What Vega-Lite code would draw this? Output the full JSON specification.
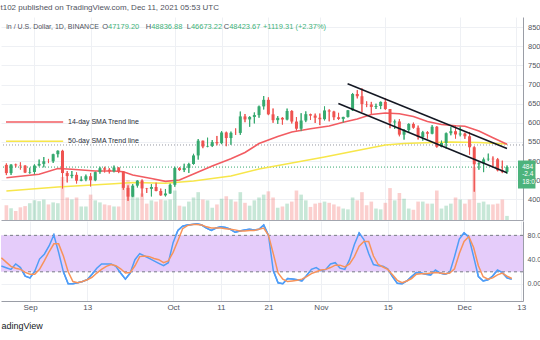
{
"$schema": "https://vega.github.io/schema/vega-lite/v6.json",
"background": "white",
"padding": {"left": 0, "top": 3, "right": 0, "bottom": 0},
"title": {"text": "t102 published on TradingView.com, Dec 11, 2021 05:53 UTC", "anchor": "start", "fontSize": 8, "font": "Liberation Sans", "fontWeight": "normal", "color": "#50535e", "offset": 5.5},
"config": {"view": {"stroke": null}, "font": "Liberation Sans", "axis": {"labelFont": "Liberation Sans", "labelColor": "#50535e", "labelFontSize": 8, "labelOverlap": false, "labelSeparation": 0}},
"spacing": 1,
"datasets": {
"ohlc": [
{"d":"2021-08-26","o":49000,"h":49380,"l":46330,"c":46850,"v":36},
{"d":"2021-08-27","o":46850,"h":49180,"l":46370,"c":49070,"v":29},
{"d":"2021-08-28","o":49070,"h":49300,"l":48370,"c":48900,"v":22},
{"d":"2021-08-29","o":48900,"h":49650,"l":47770,"c":48810,"v":31},
{"d":"2021-08-30","o":48810,"h":48910,"l":46860,"c":46990,"v":34},
{"d":"2021-08-31","o":46990,"h":48250,"l":46700,"c":47130,"v":41},
{"d":"2021-09-01","o":47130,"h":49130,"l":46520,"c":48830,"v":48},
{"d":"2021-09-02","o":48830,"h":50390,"l":48610,"c":49250,"v":46},
{"d":"2021-09-03","o":49250,"h":51050,"l":48360,"c":49940,"v":50},
{"d":"2021-09-04","o":49940,"h":50560,"l":49460,"c":49920,"v":38},
{"d":"2021-09-05","o":49920,"h":51900,"l":49500,"c":51790,"v":43},
{"d":"2021-09-06","o":51790,"h":52780,"l":50960,"c":52700,"v":41},
{"d":"2021-09-07","o":52700,"h":52920,"l":42840,"c":46860,"v":105},
{"d":"2021-09-08","o":46860,"h":47380,"l":44410,"c":46070,"v":55},
{"d":"2021-09-09","o":46070,"h":47400,"l":45510,"c":46400,"v":50},
{"d":"2021-09-10","o":46400,"h":47040,"l":44140,"c":44850,"v":55},
{"d":"2021-09-11","o":44850,"h":45990,"l":44730,"c":45170,"v":33},
{"d":"2021-09-12","o":45170,"h":46460,"l":44740,"c":46030,"v":33},
{"d":"2021-09-13","o":46030,"h":46880,"l":43370,"c":44960,"v":62},
{"d":"2021-09-14","o":44960,"h":47250,"l":44750,"c":47110,"v":48},
{"d":"2021-09-15","o":47110,"h":48490,"l":46680,"c":48120,"v":43},
{"d":"2021-09-16","o":48120,"h":48500,"l":47020,"c":47740,"v":38},
{"d":"2021-09-17","o":47740,"h":48160,"l":46750,"c":47300,"v":36},
{"d":"2021-09-18","o":47300,"h":48820,"l":47050,"c":48310,"v":33},
{"d":"2021-09-19","o":48310,"h":48370,"l":46850,"c":47260,"v":33},
{"d":"2021-09-20","o":47260,"h":47340,"l":42500,"c":42990,"v":90},
{"d":"2021-09-21","o":42990,"h":43640,"l":39600,"c":40700,"v":98},
{"d":"2021-09-22","o":40700,"h":44000,"l":40570,"c":43570,"v":75},
{"d":"2021-09-23","o":43570,"h":44980,"l":43090,"c":44900,"v":55},
{"d":"2021-09-24","o":44900,"h":45200,"l":40680,"c":42840,"v":65},
{"d":"2021-09-25","o":42840,"h":42970,"l":41650,"c":42720,"v":40},
{"d":"2021-09-26","o":42720,"h":43950,"l":40750,"c":43210,"v":48},
{"d":"2021-09-27","o":43210,"h":44350,"l":42100,"c":42170,"v":45},
{"d":"2021-09-28","o":42170,"h":42800,"l":40930,"c":41030,"v":50},
{"d":"2021-09-29","o":41030,"h":42700,"l":40750,"c":41520,"v":48},
{"d":"2021-09-30","o":41520,"h":44130,"l":41420,"c":43790,"v":50},
{"d":"2021-10-01","o":43790,"h":48500,"l":43280,"c":48170,"v":72},
{"d":"2021-10-02","o":48170,"h":48360,"l":47450,"c":47640,"v":35},
{"d":"2021-10-03","o":47640,"h":49300,"l":47120,"c":48200,"v":33},
{"d":"2021-10-04","o":48200,"h":49530,"l":46890,"c":49220,"v":45},
{"d":"2021-10-05","o":49220,"h":51890,"l":49060,"c":51470,"v":55},
{"d":"2021-10-06","o":51470,"h":55750,"l":50380,"c":55320,"v":68},
{"d":"2021-10-07","o":55320,"h":55340,"l":53360,"c":53790,"v":50},
{"d":"2021-10-08","o":53790,"h":56100,"l":53620,"c":53950,"v":48},
{"d":"2021-10-09","o":53950,"h":55490,"l":53660,"c":54950,"v":30},
{"d":"2021-10-10","o":54950,"h":56560,"l":54110,"c":54660,"v":38},
{"d":"2021-10-11","o":54660,"h":57840,"l":54420,"c":57470,"v":52},
{"d":"2021-10-12","o":57470,"h":57680,"l":53880,"c":56010,"v":58},
{"d":"2021-10-13","o":56010,"h":57700,"l":54250,"c":57370,"v":50},
{"d":"2021-10-14","o":57370,"h":58530,"l":56820,"c":57350,"v":45},
{"d":"2021-10-15","o":57350,"h":62930,"l":56850,"c":61670,"v":68},
{"d":"2021-10-16","o":61670,"h":62300,"l":60150,"c":60880,"v":42},
{"d":"2021-10-17","o":60880,"h":61720,"l":58960,"c":61530,"v":35},
{"d":"2021-10-18","o":61530,"h":62700,"l":59840,"c":62010,"v":48},
{"d":"2021-10-19","o":62010,"h":64490,"l":61320,"c":64280,"v":55},
{"d":"2021-10-20","o":64280,"h":67000,"l":63480,"c":66000,"v":62},
{"d":"2021-10-21","o":66000,"h":66640,"l":62000,"c":62210,"v":70},
{"d":"2021-10-22","o":62210,"h":63730,"l":60000,"c":60690,"v":55},
{"d":"2021-10-23","o":60690,"h":61750,"l":59700,"c":61290,"v":30},
{"d":"2021-10-24","o":61290,"h":61490,"l":59530,"c":60850,"v":33},
{"d":"2021-10-25","o":60850,"h":63710,"l":60650,"c":63080,"v":40},
{"d":"2021-10-26","o":63080,"h":63290,"l":59820,"c":60330,"v":45},
{"d":"2021-10-27","o":60330,"h":61500,"l":58000,"c":58450,"v":72},
{"d":"2021-10-28","o":58450,"h":62500,"l":57820,"c":60590,"v":62},
{"d":"2021-10-29","o":60590,"h":62980,"l":60170,"c":62250,"v":48},
{"d":"2021-10-30","o":62250,"h":62360,"l":60720,"c":61880,"v":32},
{"d":"2021-10-31","o":61880,"h":62400,"l":59950,"c":61320,"v":40},
{"d":"2021-11-01","o":61320,"h":62420,"l":59400,"c":60930,"v":42},
{"d":"2021-11-02","o":60930,"h":64270,"l":60620,"c":63230,"v":45},
{"d":"2021-11-03","o":63230,"h":63520,"l":60380,"c":62940,"v":42},
{"d":"2021-11-04","o":62940,"h":63120,"l":60700,"c":61440,"v":38},
{"d":"2021-11-05","o":61440,"h":62600,"l":60720,"c":61010,"v":33},
{"d":"2021-11-06","o":61010,"h":61560,"l":60050,"c":61530,"v":28},
{"d":"2021-11-07","o":61530,"h":63290,"l":61380,"c":63270,"v":26},
{"d":"2021-11-08","o":63270,"h":67790,"l":63110,"c":67530,"v":55},
{"d":"2021-11-09","o":67530,"h":68530,"l":66380,"c":66940,"v":48},
{"d":"2021-11-10","o":66940,"h":69000,"l":62820,"c":64880,"v":68},
{"d":"2021-11-11","o":64880,"h":65600,"l":64100,"c":64780,"v":36},
{"d":"2021-11-12","o":64780,"h":65460,"l":62330,"c":64140,"v":45},
{"d":"2021-11-13","o":64140,"h":64990,"l":63600,"c":64390,"v":28},
{"d":"2021-11-14","o":64390,"h":65550,"l":63580,"c":65470,"v":26},
{"d":"2021-11-15","o":65470,"h":66400,"l":63400,"c":63590,"v":42},
{"d":"2021-11-16","o":63590,"h":63590,"l":58580,"c":60090,"v":78},
{"d":"2021-11-17","o":60090,"h":60820,"l":58370,"c":60350,"v":48},
{"d":"2021-11-18","o":60350,"h":60960,"l":56470,"c":56900,"v":66},
{"d":"2021-11-19","o":56900,"h":58370,"l":55600,"c":58100,"v":52},
{"d":"2021-11-20","o":58100,"h":59850,"l":57350,"c":59700,"v":28},
{"d":"2021-11-21","o":59700,"h":60050,"l":58470,"c":58700,"v":25},
{"d":"2021-11-22","o":58700,"h":59270,"l":55630,"c":56280,"v":45},
{"d":"2021-11-23","o":56280,"h":57870,"l":55320,"c":57540,"v":45},
{"d":"2021-11-24","o":57540,"h":57800,"l":55850,"c":57140,"v":40},
{"d":"2021-11-25","o":57140,"h":59400,"l":57000,"c":58960,"v":40},
{"d":"2021-11-26","o":58960,"h":59150,"l":53500,"c":53730,"v":72},
{"d":"2021-11-27","o":53730,"h":55330,"l":53610,"c":54720,"v":28},
{"d":"2021-11-28","o":54720,"h":57450,"l":53250,"c":57270,"v":35},
{"d":"2021-11-29","o":57270,"h":58870,"l":56730,"c":57800,"v":40},
{"d":"2021-11-30","o":57800,"h":59250,"l":55880,"c":56950,"v":55},
{"d":"2021-12-01","o":56950,"h":59050,"l":56460,"c":57180,"v":50},
{"d":"2021-12-02","o":57180,"h":57400,"l":55800,"c":56480,"v":40},
{"d":"2021-12-03","o":56480,"h":57600,"l":51680,"c":53600,"v":50},
{"d":"2021-12-04","o":53600,"h":53860,"l":42000,"c":49150,"v":130},
{"d":"2021-12-05","o":49150,"h":49700,"l":47730,"c":49400,"v":42},
{"d":"2021-12-06","o":49400,"h":50880,"l":47100,"c":50440,"v":45},
{"d":"2021-12-07","o":50440,"h":51940,"l":50040,"c":50590,"v":38},
{"d":"2021-12-08","o":50590,"h":51200,"l":48600,"c":50470,"v":38},
{"d":"2021-12-09","o":50470,"h":50800,"l":47320,"c":47550,"v":40},
{"d":"2021-12-10","o":47550,"h":50100,"l":46850,"c":47179,"v":50},
{"d":"2021-12-11","o":47179,"h":48837,"l":46673,"c":48424,"v":10}
],
"sma14": [
{"d":"2021-08-26","v":45650},{"d":"2021-09-02","v":46540},{"d":"2021-09-06","v":48050},{"d":"2021-09-09","v":47840},
{"d":"2021-09-14","v":47400},{"d":"2021-09-18","v":47400},{"d":"2021-09-20","v":47210},{"d":"2021-09-22","v":46350},
{"d":"2021-09-26","v":45440},{"d":"2021-09-29","v":44700},{"d":"2021-10-02","v":45050},{"d":"2021-10-05","v":46610},
{"d":"2021-10-09","v":48700},{"d":"2021-10-13","v":50610},{"d":"2021-10-16","v":52230},{"d":"2021-10-19","v":54590},
{"d":"2021-10-23","v":56420},{"d":"2021-10-26","v":57590},{"d":"2021-10-30","v":58450},{"d":"2021-11-03","v":59160},
{"d":"2021-11-06","v":60150},{"d":"2021-11-09","v":60990},{"d":"2021-11-12","v":62170},{"d":"2021-11-15","v":62560},
{"d":"2021-11-18","v":62350},{"d":"2021-11-21","v":61640},{"d":"2021-11-24","v":60340},{"d":"2021-11-27","v":59550},
{"d":"2021-11-30","v":59210},{"d":"2021-12-02","v":59110},{"d":"2021-12-05","v":57850},{"d":"2021-12-08","v":56100},
{"d":"2021-12-11","v":54380}
],
"sma50": [
{"d":"2021-08-26","v":42170},{"d":"2021-09-06","v":43220},{"d":"2021-09-18","v":44080},{"d":"2021-09-22","v":44390},
{"d":"2021-09-29","v":44180},{"d":"2021-10-05","v":44780},{"d":"2021-10-13","v":46090},{"d":"2021-10-19","v":47920},
{"d":"2021-10-26","v":49490},{"d":"2021-11-02","v":51060},{"d":"2021-11-09","v":52760},{"d":"2021-11-15","v":54200},
{"d":"2021-11-19","v":54600},{"d":"2021-11-22","v":54720},{"d":"2021-11-29","v":54980},{"d":"2021-12-05","v":54850},
{"d":"2021-12-11","v":54460}
],
"stoch": [
{"d":"2021-08-26","k":29.6,"dd":43},{"d":"2021-08-27","k":26.8,"dd":36},{"d":"2021-08-28","k":24,"dd":29},{"d":"2021-08-29","k":33,"dd":26},{"d":"2021-08-30","k":27,"dd":24},{"d":"2021-08-31","k":13,"dd":19},
{"d":"2021-09-01","k":10,"dd":16},{"d":"2021-09-02","k":21,"dd":16},{"d":"2021-09-03","k":41,"dd":24},{"d":"2021-09-04","k":49,"dd":38},{"d":"2021-09-05","k":62.5,"dd":53},{"d":"2021-09-06","k":80.6,"dd":66},
{"d":"2021-09-07","k":52,"dd":66},{"d":"2021-09-08","k":20,"dd":46},{"d":"2021-09-09","k":0.5,"dd":20},{"d":"2021-09-10","k":0.5,"dd":4},{"d":"2021-09-11","k":2,"dd":2},{"d":"2021-09-12","k":4,"dd":4},
{"d":"2021-09-13","k":7,"dd":7},{"d":"2021-09-14","k":16,"dd":11},{"d":"2021-09-15","k":26,"dd":18},{"d":"2021-09-16","k":33,"dd":24},{"d":"2021-09-17","k":33,"dd":29},{"d":"2021-09-18","k":33,"dd":32},
{"d":"2021-09-19","k":29,"dd":30},{"d":"2021-09-20","k":18,"dd":25},{"d":"2021-09-21","k":8,"dd":18},{"d":"2021-09-22","k":18,"dd":19},{"d":"2021-09-23","k":40,"dd":30},{"d":"2021-09-24","k":50,"dd":45},
{"d":"2021-09-25","k":46,"dd":46},{"d":"2021-09-26","k":42,"dd":45},{"d":"2021-09-27","k":38,"dd":42},{"d":"2021-09-28","k":34,"dd":40},{"d":"2021-09-29","k":30,"dd":35},{"d":"2021-09-30","k":35,"dd":38},
{"d":"2021-10-01","k":68,"dd":52},{"d":"2021-10-02","k":88,"dd":71},{"d":"2021-10-03","k":95,"dd":91},{"d":"2021-10-04","k":97,"dd":96},{"d":"2021-10-05","k":98,"dd":98},{"d":"2021-10-06","k":99,"dd":98},
{"d":"2021-10-07","k":97,"dd":97},{"d":"2021-10-08","k":92,"dd":94},{"d":"2021-10-09","k":88,"dd":92},{"d":"2021-10-10","k":92,"dd":92},{"d":"2021-10-11","k":94,"dd":92},{"d":"2021-10-12","k":93,"dd":91},
{"d":"2021-10-13","k":90,"dd":90},{"d":"2021-10-14","k":85,"dd":89},{"d":"2021-10-15","k":87,"dd":87},{"d":"2021-10-16","k":89,"dd":87},{"d":"2021-10-17","k":90,"dd":88},{"d":"2021-10-18","k":89,"dd":88},
{"d":"2021-10-19","k":90,"dd":90},{"d":"2021-10-20","k":97,"dd":92},{"d":"2021-10-21","k":80,"dd":80},{"d":"2021-10-22","k":22,"dd":50},{"d":"2021-10-23","k":2,"dd":18},{"d":"2021-10-24","k":0.5,"dd":8},
{"d":"2021-10-25","k":9,"dd":4},{"d":"2021-10-26","k":8,"dd":5},{"d":"2021-10-27","k":7,"dd":6},{"d":"2021-10-28","k":5,"dd":8},{"d":"2021-10-29","k":14,"dd":12},{"d":"2021-10-30","k":24,"dd":17},
{"d":"2021-10-31","k":27,"dd":20},{"d":"2021-11-01","k":22,"dd":23},{"d":"2021-11-02","k":24,"dd":24},{"d":"2021-11-03","k":33,"dd":27},{"d":"2021-11-04","k":35,"dd":31},{"d":"2021-11-05","k":26,"dd":31},
{"d":"2021-11-06","k":24,"dd":28},{"d":"2021-11-07","k":40,"dd":33},{"d":"2021-11-08","k":65,"dd":45},{"d":"2021-11-09","k":84,"dd":62},{"d":"2021-11-10","k":73,"dd":70},{"d":"2021-11-11","k":50,"dd":70},
{"d":"2021-11-12","k":32,"dd":46},{"d":"2021-11-13","k":30,"dd":32},{"d":"2021-11-14","k":29,"dd":28},{"d":"2021-11-15","k":25,"dd":24},{"d":"2021-11-16","k":12,"dd":15},{"d":"2021-11-17","k":1,"dd":6},
{"d":"2021-11-18","k":0.5,"dd":2},{"d":"2021-11-19","k":5,"dd":5},{"d":"2021-11-20","k":12,"dd":9},{"d":"2021-11-21","k":19,"dd":16},{"d":"2021-11-22","k":18,"dd":17},{"d":"2021-11-23","k":16,"dd":17},
{"d":"2021-11-24","k":15,"dd":18},{"d":"2021-11-25","k":23,"dd":19},{"d":"2021-11-26","k":18,"dd":18},{"d":"2021-11-27","k":16,"dd":17},{"d":"2021-11-28","k":19,"dd":18},{"d":"2021-11-29","k":45,"dd":25},
{"d":"2021-11-30","k":74,"dd":50},{"d":"2021-12-01","k":84,"dd":70},{"d":"2021-12-02","k":77,"dd":78},{"d":"2021-12-03","k":45,"dd":60},{"d":"2021-12-04","k":12,"dd":30},{"d":"2021-12-05","k":5,"dd":12},
{"d":"2021-12-06","k":7,"dd":8},{"d":"2021-12-07","k":13,"dd":10},{"d":"2021-12-08","k":23,"dd":15},{"d":"2021-12-09","k":19,"dd":18},{"d":"2021-12-10","k":10,"dd":13},{"d":"2021-12-11","k":8,"dd":9}
],
"channel": [
{"a":"2021-11-06T22:30:00Z","b":"2021-12-11T00:00:00Z","pa":70190,"pb":53280},
{"a":"2021-11-04T23:00:00Z","b":"2021-12-11T00:00:00Z","pa":65040,"pb":46950}
],
"notes": [
{"a":"2021-08-25T22:05:00Z","b":"2021-09-07T03:20:00Z","t":"2021-09-08T04:30:00Z","p":60210,"label":"14-day SMA Trend line","kind":"14"},
{"a":"2021-08-25T22:05:00Z","b":"2021-09-07T03:20:00Z","t":"2021-09-08T04:30:00Z","p":55170,"label":"50-day SMA Trend line","kind":"50"}
],
"header": [
{"d":"2021-08-25T23:40:00Z","name":"in / U.S. Dollar, 1D, BINANCE","lbl":"","val":""},
{"d":"2021-09-16T17:20:00Z","name":"","lbl":"O","val":"47179.20"},
{"d":"2021-09-25T22:45:00Z","name":"","lbl":"H","val":"48836.88"},
{"d":"2021-10-04T10:30:00Z","name":"","lbl":"L","val":"46673.22"},
{"d":"2021-10-12T14:45:00Z","name":"","lbl":"C","val":"48423.67"},
{"d":"2021-10-19T20:20:00Z","name":"","lbl":"","val":"+1119.31 (+2.37%)"}
],
"tag": [
{"a":"2021-12-13T08:30:00Z","b":"2021-12-17T02:00:00Z","p1":50140,"p2":42820}
],
"tagtext": [
{"d":"2021-12-14T06:00:00Z","p":48420,"t":"484"},
{"d":"2021-12-14T06:00:00Z","p":46535,"t":"-2.4"},
{"d":"2021-12-14T06:00:00Z","p":44600,"t":"18:0"}
]
},
"vconcat": [
{
"width": 522, "height": 203,
"resolve": {"scale": {"y": "independent"}},
"layer": [
{
"data": {"name": "ohlc"},
"mark": {"type": "bar", "size": 3.6, "opacity": 0.28, "clip": true},
"encoding": {
"x": {"field": "d", "type": "temporal", "scale": {"type": "utc", "domain": [1629929100000, 1639384140000]},
 "axis": {"values": [1630454400000, 1631491200000, 1633046400000, 1633910400000, 1634774400000, 1635724800000, 1636934400000, 1638316800000, 1639353600000], "tickCount": 30,
  "labels": false, "ticks": false, "grid": true, "gridColor": "#eef0f4", "domain": true, "domainColor": "#a3a6af", "domainWidth": 1.2, "title": null, "zindex": 0}},
"y": {"field": "v", "type": "quantitative", "scale": {"domain": [0, 496], "nice": false}, "axis": null},
"color": {"condition": {"test": "datum.c >= datum.o", "value": "#36a96f"}, "value": "#ef5350"}
}
},
{
"layer": [
{
"data": {"name": "ohlc"},
"mark": {"type": "rule", "strokeWidth": 1, "clip": true},
"encoding": {
"x": {"field": "d", "type": "temporal", "scale": {"type": "utc", "domain": [1629929100000, 1639384140000]}},
"y": {"field": "l", "type": "quantitative", "scale": {"domain": [34590, 87650], "nice": false, "zero": false},
 "axis": {"orient": "right", "values": [40000, 45000, 50000, 55000, 60000, 65000, 70000, 75000, 80000, 85000], "tickCount": 30, "labelExpr": "substring(format(datum.value, '.2f'), 0, 3)", "labelOverlap": false, "labelSeparation": 0, "grid": true, "gridColor": "#eef0f4", "ticks": false, "labelPadding": 4.5, "labelFontSize": 7.5, "domain": true, "domainColor": "#9a9da6", "title": null, "zindex": 0}},
"y2": {"field": "h"},
"color": {"condition": {"test": "datum.c >= datum.o", "value": "#36a96f"}, "value": "#ef5350"}
}
},
{
"data": {"values": [{"p": 54200}]},
"mark": {"type": "rule", "color": "#9598a1", "strokeDash": [1, 2], "strokeWidth": 1},
"encoding": {"y": {"field": "p", "type": "quantitative", "scale": {"domain": [34590, 87650], "nice": false, "zero": false}}}
},
{
"data": {"values": [{"p": 48423.67}]},
"mark": {"type": "rule", "color": "#36a96f", "strokeDash": [1, 2], "strokeWidth": 1},
"encoding": {"y": {"field": "p", "type": "quantitative", "scale": {"domain": [34590, 87650], "nice": false, "zero": false}}}
},
{
"data": {"name": "sma50"},
"mark": {"type": "line", "color": "#f7e64a", "strokeWidth": 1.6, "clip": true},
"encoding": {
"x": {"field": "d", "type": "temporal", "scale": {"type": "utc", "domain": [1629929100000, 1639384140000]}},
"y": {"field": "v", "type": "quantitative", "scale": {"domain": [34590, 87650], "nice": false, "zero": false}}
}
},
{
"data": {"name": "sma14"},
"mark": {"type": "line", "color": "#f25c62", "strokeWidth": 1.6, "clip": true},
"encoding": {
"x": {"field": "d", "type": "temporal", "scale": {"type": "utc", "domain": [1629929100000, 1639384140000]}},
"y": {"field": "v", "type": "quantitative", "scale": {"domain": [34590, 87650], "nice": false, "zero": false}}
}
},
{
"data": {"name": "ohlc"},
"mark": {"type": "rule", "strokeWidth": 1, "clip": true},
"encoding": {
"x": {"field": "d", "type": "temporal", "scale": {"type": "utc", "domain": [1629929100000, 1639384140000]}},
"y": {"field": "l", "type": "quantitative", "scale": {"domain": [34590, 87650], "nice": false, "zero": false}},
"y2": {"field": "h"},
"color": {"condition": {"test": "datum.c >= datum.o", "value": "#36a96f"}, "value": "#ef5350"}
}
},
{
"data": {"name": "ohlc"},
"mark": {"type": "bar", "size": 3, "clip": true},
"encoding": {
"x": {"field": "d", "type": "temporal", "scale": {"type": "utc", "domain": [1629929100000, 1639384140000]}},
"y": {"field": "o", "type": "quantitative", "scale": {"domain": [34590, 87650], "nice": false, "zero": false}},
"y2": {"field": "c"},
"color": {"condition": {"test": "datum.c >= datum.o", "value": "#36a96f"}, "value": "#ef5350"}
}
},
{
"data": {"name": "channel"},
"mark": {"type": "rule", "color": "#131722", "strokeWidth": 1.5},
"encoding": {
"x": {"field": "a", "type": "temporal", "scale": {"type": "utc", "domain": [1629929100000, 1639384140000]}},
"x2": {"field": "b"},
"y": {"field": "pa", "type": "quantitative", "scale": {"domain": [34590, 87650], "nice": false, "zero": false}},
"y2": {"field": "pb"}
}
},
{
"data": {"name": "notes"},
"mark": {"type": "rule", "strokeWidth": 1.6, "clip": true},
"encoding": {
"x": {"field": "a", "type": "temporal", "scale": {"type": "utc", "domain": [1629929100000, 1639384140000]}},
"x2": {"field": "b"},
"y": {"field": "p", "type": "quantitative", "scale": {"domain": [34590, 87650], "nice": false, "zero": false}},
"color": {"field": "kind", "type": "nominal", "scale": {"domain": ["14", "50"], "range": ["#f25c62", "#f7e64a"]}, "legend": null}
}
},
{
"data": {"name": "notes"},
"mark": {"type": "text", "align": "left", "baseline": "middle", "fontSize": 7, "font": "Liberation Sans", "color": "#2a2e39"},
"encoding": {
"x": {"field": "t", "type": "temporal", "scale": {"type": "utc", "domain": [1629929100000, 1639384140000]}},
"y": {"field": "p", "type": "quantitative", "scale": {"domain": [34590, 87650], "nice": false, "zero": false}},
"text": {"field": "label"}
}
},
{
"data": {"name": "header"},
"mark": {"type": "text", "align": "left", "baseline": "middle", "fontSize": 7, "font": "Liberation Sans", "color": "#50535e"},
"encoding": {
"x": {"field": "d", "type": "temporal", "scale": {"type": "utc", "domain": [1629929100000, 1639384140000]}},
"y": {"datum": 85040, "type": "quantitative", "scale": {"domain": [34590, 87650], "nice": false, "zero": false}},
"text": {"field": "name"}
}
},
{
"data": {"name": "header"},
"mark": {"type": "text", "align": "right", "baseline": "middle", "fontSize": 7.5, "font": "Liberation Sans", "color": "#50535e"},
"encoding": {
"x": {"field": "d", "type": "temporal", "scale": {"type": "utc", "domain": [1629929100000, 1639384140000]}},
"y": {"datum": 85040, "type": "quantitative", "scale": {"domain": [34590, 87650], "nice": false, "zero": false}},
"text": {"field": "lbl"}
}
},
{
"data": {"name": "header"},
"mark": {"type": "text", "align": "left", "baseline": "middle", "fontSize": 7.5, "font": "Liberation Sans", "color": "#3fb27a"},
"encoding": {
"x": {"field": "d", "type": "temporal", "scale": {"type": "utc", "domain": [1629929100000, 1639384140000]}},
"y": {"datum": 85040, "type": "quantitative", "scale": {"domain": [34590, 87650], "nice": false, "zero": false}},
"text": {"field": "val"}
}
},
{
"data": {"name": "tag"},
"mark": {"type": "rect", "color": "#4cb37c"},
"encoding": {
"x": {"field": "a", "type": "temporal", "scale": {"type": "utc", "domain": [1629929100000, 1639384140000]}},
"x2": {"field": "b"},
"y": {"field": "p1", "type": "quantitative", "scale": {"domain": [34590, 87650], "nice": false, "zero": false}},
"y2": {"field": "p2"}
}
},
{
"data": {"name": "tagtext"},
"mark": {"type": "text", "align": "left", "baseline": "middle", "fontSize": 6.5, "font": "Liberation Sans", "color": "white"},
"encoding": {
"x": {"field": "d", "type": "temporal", "scale": {"type": "utc", "domain": [1629929100000, 1639384140000]}},
"y": {"field": "p", "type": "quantitative", "scale": {"domain": [34590, 87650], "nice": false, "zero": false}},
"text": {"field": "t"}
}
}
]
}
]
},
{
"width": 522, "height": 80,
"layer": [
{
"data": {"name": "stoch"},
"mark": {"type": "line", "color": "#4f9df7", "strokeWidth": 1.5, "clip": true},
"encoding": {
"x": {"field": "d", "type": "temporal", "scale": {"type": "utc", "domain": [1629929100000, 1639384140000]},
 "axis": {"values": [1630454400000, 1631491200000, 1633046400000, 1633910400000, 1634774400000, 1635724800000, 1636934400000, 1638316800000, 1639353600000], "tickCount": 30,
  "labelExpr": "utcdate(datum.value) == 1 ? utcFormat(datum.value, '%b') : utcFormat(datum.value, '%d')", "labelFlush": false, "labelOverlap": false, "labelPadding": 2.5, "labelFontSize": 8, "ticks": false, "grid": true, "gridColor": "#eef0f4", "domain": true, "domainColor": "#9a9da6", "domainWidth": 1.2, "zindex": 0,
  "title": "adingView", "titleAnchor": "start", "titleAlign": "left", "titleFontSize": 9, "titleFontWeight": "normal", "titleColor": "#131722", "titleFont": "Liberation Sans", "titlePadding": 10}},
"y": {"field": "k", "type": "quantitative", "scale": {"domain": [-28, 103.6], "nice": false, "zero": false},
 "axis": {"orient": "right", "values": [0, 40, 80], "tickCount": 30, "labelExpr": "substring(format(datum.value, '.2f'), 0, 4)", "labelOverlap": false, "labelSeparation": 0, "grid": true, "gridColor": "#eef0f4", "ticks": false, "labelPadding": 4, "labelFontSize": 7, "domain": true, "domainColor": "#9a9da6", "title": null, "zindex": 0}}
}
},
{
"data": {"values": [{"lo": 20, "hi": 80}]},
"mark": {"type": "rect", "color": "#e5ccfa"},
"encoding": {
"y": {"field": "lo", "type": "quantitative", "scale": {"domain": [-28, 103.6], "nice": false, "zero": false}},
"y2": {"field": "hi"}
}
},
{
"data": {"values": [{"lvl": 80}, {"lvl": 20}]},
"mark": {"type": "rule", "color": "#787b86", "strokeDash": [3, 3], "strokeWidth": 1},
"encoding": {"y": {"field": "lvl", "type": "quantitative", "scale": {"domain": [-28, 103.6], "nice": false, "zero": false}}}
},
{
"data": {"name": "stoch"},
"mark": {"type": "line", "color": "#4f9df7", "strokeWidth": 1.5, "clip": true},
"encoding": {
"x": {"field": "d", "type": "temporal", "scale": {"type": "utc", "domain": [1629929100000, 1639384140000]}},
"y": {"field": "k", "type": "quantitative", "scale": {"domain": [-28, 103.6], "nice": false, "zero": false}}
}
},
{
"data": {"name": "stoch"},
"mark": {"type": "line", "color": "#f7935a", "strokeWidth": 1.5, "clip": true},
"encoding": {
"x": {"field": "d", "type": "temporal", "scale": {"type": "utc", "domain": [1629929100000, 1639384140000]}},
"y": {"field": "dd", "type": "quantitative", "scale": {"domain": [-28, 103.6], "nice": false, "zero": false}}
}
}
]
}
]
}
